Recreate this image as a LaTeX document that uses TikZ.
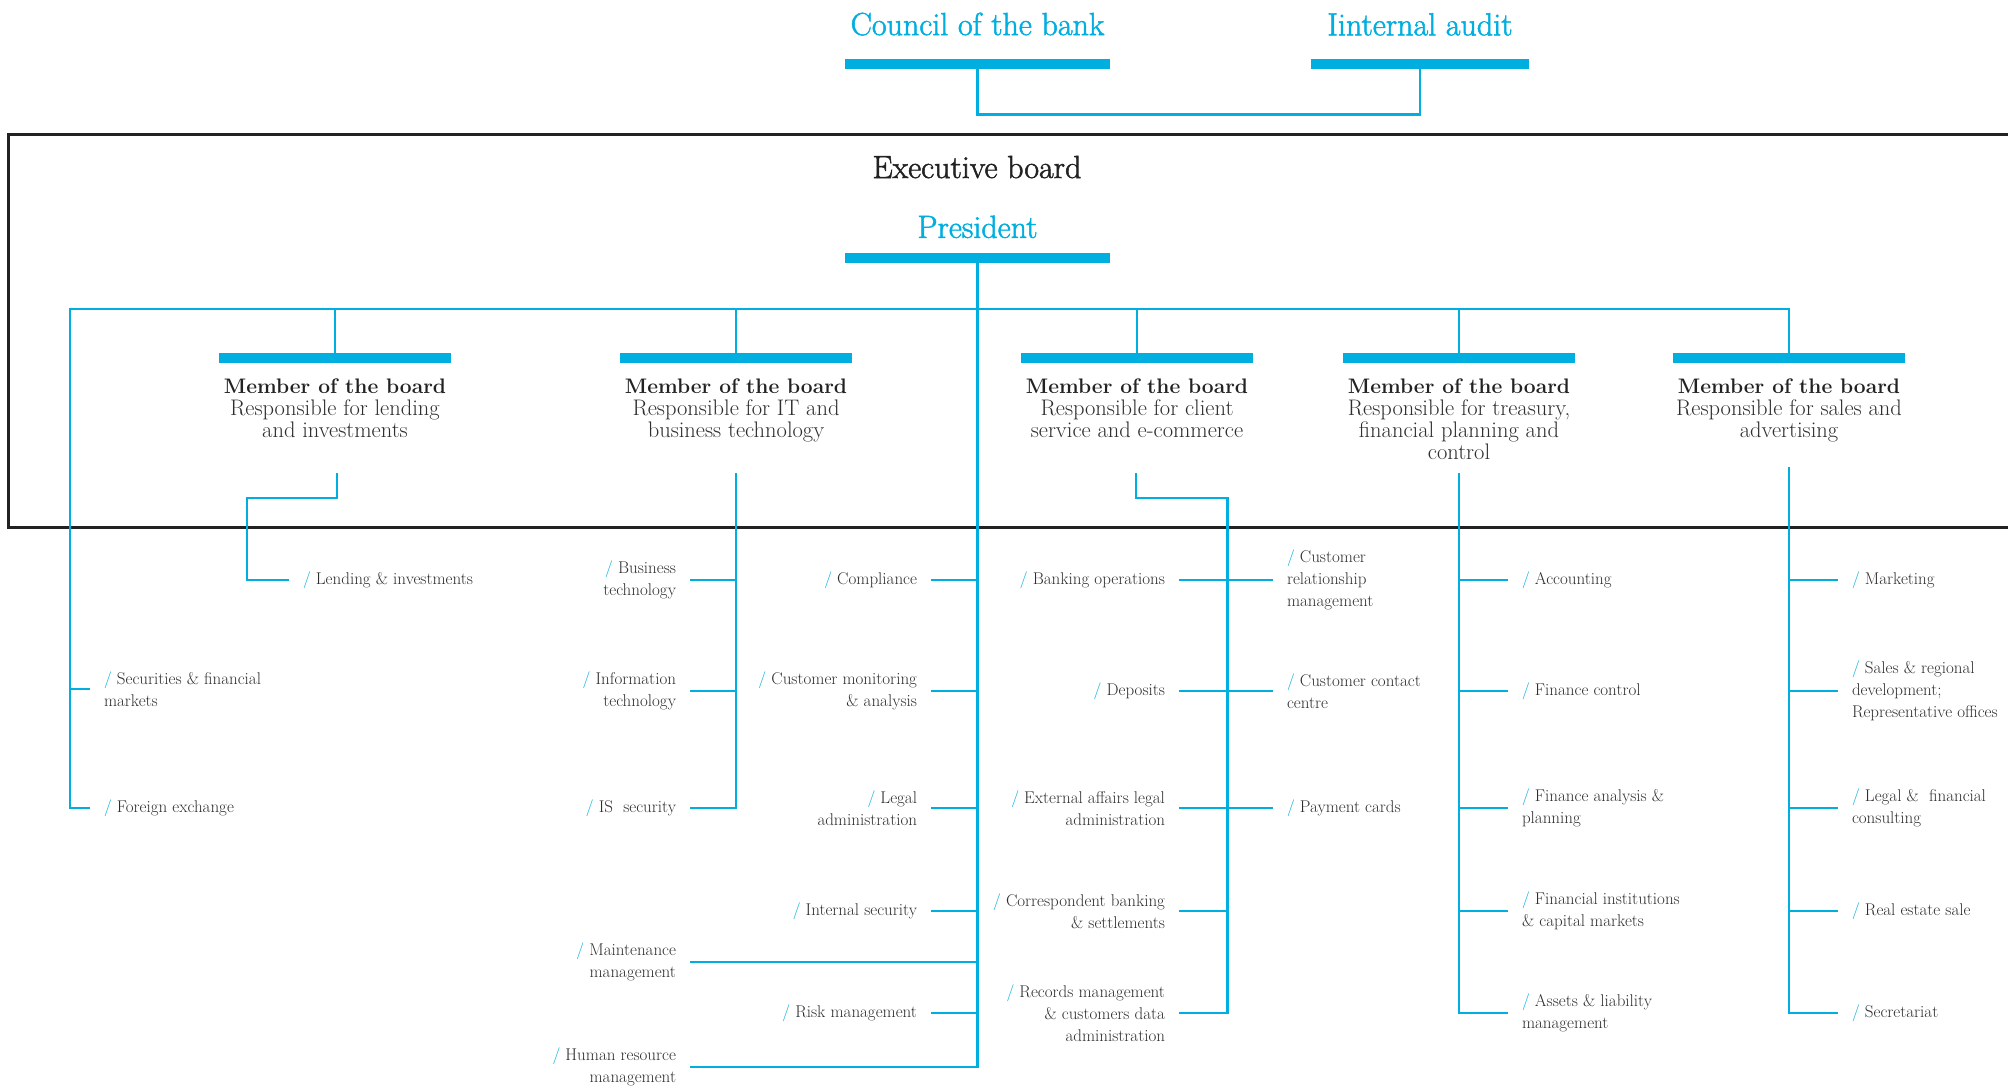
\documentclass[tikz,border=0pt]{standalone}
\usepackage{fontspec}
\usetikzlibrary{positioning}
\newfontfamily\headfont{Latin Modern Roman}[FakeBold=1.6]
\definecolor{bankblue}{HTML}{00AEDF}
\definecolor{labelgray}{HTML}{2E2E2E}
\definecolor{boxgray}{HTML}{222222}
\newcommand{\dslash}{\textcolor{bankblue}{/}\ }
\newcommand{\mtitle}{{\fontsize{21}{22}\selectfont\textcolor{boxgray}{\textbf{Member of the board}}}}
\tikzset{
  wire/.style={draw=bankblue, line width=2.6pt},
  bar/.style={fill=bankblue, inner sep=0pt, minimum height=10pt, minimum width=232pt},
  head/.style={font=\headfont\fontsize{32}{34}\selectfont, text=bankblue, inner sep=0pt},
  member/.style={font=\fontsize{22.5}{22}\selectfont, text=labelgray, align=center, inner sep=0pt},
  unitl/.style={font=\fontsize{17}{22}\selectfont, text=labelgray, align=right, anchor=east, inner sep=0pt, outer xsep=14pt},
  unitr/.style={font=\fontsize{17}{22}\selectfont, text=labelgray, align=left, anchor=west, inner sep=0pt, outer xsep=14pt},
}
\begin{document}
\begin{tikzpicture}[x=1pt, y=-1pt]
    \useasboundingbox (0,0) rectangle (2008,1085);
    % executive board frame
    \draw[boxgray, line width=3pt] (8,134) rectangle (2040,527);

    % council and audit
    \node[bar, minimum width=265pt] (council) at (977.5,64) {};
    \node[bar, minimum width=218pt] (audit) at (1420,64) {};
    \node[head, above=23pt of council] (councilt) {Council of the bank};
    \node[head, above=23pt of audit] (auditt) {Iinternal audit};

    \node[head, text=boxgray, anchor=base] (exec) at (977,178) {Executive board};
    \node[bar, minimum width=265pt] (pres) at (977.5,257.5) {};
    \node[head, above=14pt of pres] (prest) {President};

    % members of the board
    \node[bar] (m1) at (335,358) {};
    \node[bar] (m2) at (736,358) {};
    \node[bar] (m3) at (1137,358) {};
    \node[bar] (m4) at (1459,358) {};
    \node[bar] (m5) at (1789,358) {};
    \node[member, below=15pt of m1] (m1t) {\mtitle\\Responsible for lending\\and investments};
    \node[member, below=15pt of m2] (m2t) {\mtitle\\Responsible for IT and\\business technology};
    \node[member, below=15pt of m3] (m3t) {\mtitle\\Responsible for client\\service and e-commerce};
    \node[member, below=15pt of m4] (m4t) {\mtitle\\Responsible for treasury,\\financial planning and\\control};
    \node[member, below=15pt of m5] (m5t) {\mtitle\\Responsible for sales and\\advertising};

    \coordinate (busl) at (70,309);
    \coordinate (h1) at (337,473);
    \coordinate (h2) at (736,473);
    \coordinate (h3) at (1136,473);
    \coordinate (h4) at (1459,473);
    \coordinate (h5) at (1789,467);
    \coordinate (t3) at (1227.5,498);
    \coordinate (lb) at (247,580);

    % departments
    \node[unitr] (sfm) at (90,689) {\dslash Securities \& financial\\markets};
    \node[unitr] (fx) at (90,808) {\dslash Foreign exchange};
    \node[unitr] (lend) at (289,580) {\dslash Lending \& investments};

    \node[unitl] (bt) at (690,580) {\dslash Business\\technology};
    \node[unitl] (it) at (690,691) {\dslash Information\\technology};
    \node[unitl] (iss) at (690,808) {\dslash IS\ \ security};
    \node[unitl] (mm) at (690,962) {\dslash Maintenance\\management};
    \node[unitl] (hrm) at (690,1067) {\dslash Human resource\\management};

    \node[unitl] (comp) at (931,580) {\dslash Compliance};
    \node[unitl] (cma) at (931,691) {\dslash Customer monitoring\\\& analysis};
    \node[unitl] (lad) at (931,808) {\dslash Legal\\administration};
    \node[unitl] (ins) at (931,911) {\dslash Internal security};
    \node[unitl] (risk) at (931,1013) {\dslash Risk management};

    \node[unitl] (bop) at (1179,580) {\dslash Banking operations};
    \node[unitl] (dep) at (1179,691) {\dslash Deposits};
    \node[unitl] (eal) at (1179,808) {\dslash External affairs legal\\administration};
    \node[unitl] (cbs) at (1179,911) {\dslash Correspondent banking\\\& settlements};
    \node[unitl] (rec) at (1179,1013) {\dslash Records management\\\& customers data\\administration};

    \node[unitr] (crm) at (1273,580) {\dslash Customer\\relationship\\management};
    \node[unitr] (ccc) at (1273,691) {\dslash Customer contact\\centre};
    \node[unitr] (pc) at (1273,808) {\dslash Payment cards};

    \node[unitr] (acc) at (1508,580) {\dslash Accounting};
    \node[unitr] (fc) at (1508,691) {\dslash Finance control};
    \node[unitr] (fap) at (1508,808) {\dslash Finance analysis \&\\planning};
    \node[unitr] (fic) at (1508,911) {\dslash Financial institutions\\\& capital markets};
    \node[unitr] (alm) at (1508,1013) {\dslash Assets \& liability\\management};

    \node[unitr] (mkt) at (1838,580) {\dslash Marketing};
    \node[unitr] (srd) at (1838,691) {\dslash Sales \& regional\\development;\\Representative offices};
    \node[unitr] (lfc) at (1838,808) {\dslash Legal \&\ \ financial\\consulting};
    \node[unitr] (res) at (1838,911) {\dslash Real estate sale};
    \node[unitr] (secr) at (1838,1013) {\dslash Secretariat};

    % connectors
    \draw[wire] (council.south) -- ++(0,45) -| (audit.south);
    \draw[wire] (m5.north) |- (busl) |- (fx.west);
    \foreach \m in {m1,m2,m3,m4}
        \draw[wire] (\m.north) -- (\m.north |- busl);
    \draw[wire] (busl |- sfm.west) -- (sfm.west);
    \draw[wire] (h1) -- ++(0,25) -| (lb) -- (lend.west);
    \draw[wire] (h2) |- (iss.east);
    \foreach \u in {bt,it}
        \draw[wire] (\u.east) -- (\u.east -| h2);
    \draw[wire] (pres.south) |- (hrm.east);
    \foreach \u in {comp,cma,lad,ins,mm,risk}
        \draw[wire] (\u.east) -- (\u.east -| pres.south);
    \draw[wire] (h3) |- (t3) |- (rec.east);
    \foreach \u in {bop,dep,eal,cbs}
        \draw[wire] (\u.east) -- (\u.east -| t3);
    \foreach \u in {crm,ccc,pc}
        \draw[wire] (t3 |- \u.west) -- (\u.west);
    \draw[wire] (h4) |- (alm.west);
    \foreach \u in {acc,fc,fap,fic}
        \draw[wire] (h4 |- \u.west) -- (\u.west);
    \draw[wire] (h5) |- (secr.west);
    \foreach \u in {mkt,srd,lfc,res}
        \draw[wire] (h5 |- \u.west) -- (\u.west);
\end{tikzpicture}
\end{document}
